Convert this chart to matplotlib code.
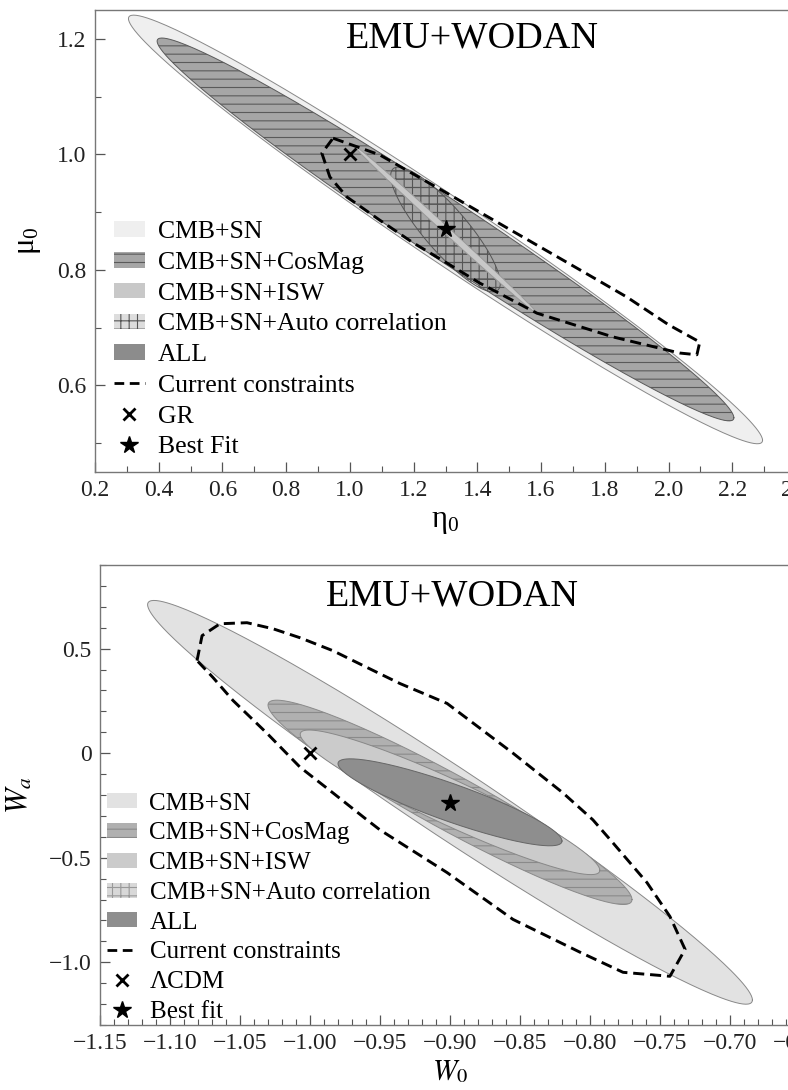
import numpy as np
import matplotlib
matplotlib.use("Agg")
import matplotlib.pyplot as plt
from matplotlib.patches import Patch
from matplotlib.lines import Line2D
from matplotlib.ticker import MultipleLocator, FuncFormatter

plt.rcParams["font.family"] = ["Liberation Serif", "DejaVu Serif"]
plt.rcParams["mathtext.fontset"] = "stix"
plt.rcParams["hatch.linewidth"] = 0.8
plt.rcParams["axes.unicode_minus"] = True

# ---- data ----
labels = ["CMB+SN", "CMB+SN+CosMag", "CMB+SN+ISW", "CMB+SN+Auto correlation", "ALL"]

# ellipses: centre, rightmost point, vertical half-thickness through the centre
top_center = (1.30, 0.87)
top_right = {"CMB+SN": (2.295, 0.505), "CMB+SN+CosMag": (2.205, 0.544),
             "CMB+SN+Auto correlation": (1.472, 0.777), "CMB+SN+ISW": (1.587, 0.725)}
top_half = {"CMB+SN": 0.067, "CMB+SN+CosMag": 0.060,
            "CMB+SN+Auto correlation": 0.055, "CMB+SN+ISW": 0.008}

bot_center = (-0.90, -0.235)
bot_right = {"CMB+SN": (-0.684, -1.18), "CMB+SN+CosMag": (-0.770, -0.70),
             "CMB+SN+ISW": (-0.793, -0.56), "ALL": (-0.820, -0.42)}
bot_half = {"CMB+SN": 0.198, "CMB+SN+CosMag": 0.150,
            "CMB+SN+ISW": 0.118, "ALL": 0.095}

# current constraints (dashed contour)
top_cur_x = [0.947, 1.094, 1.304, 1.511, 1.722, 1.869, 2.000, 2.098, 2.089, 2.035,
             1.825, 1.587, 1.408, 1.304, 1.198, 1.094, 0.991, 0.937, 0.912, 0.947]
top_cur_y = [1.028, 0.999, 0.933, 0.867, 0.800, 0.753, 0.705, 0.675, 0.653, 0.656,
             0.684, 0.725, 0.777, 0.812, 0.847, 0.886, 0.926, 0.961, 1.002, 1.028]

bot_cur_x = [-1.0807, -1.0771, -1.0643, -1.045, -1.0264, -1.0071, -0.9836, -0.9593,
             -0.9357, -0.9021, -0.855, -0.8193, -0.7979, -0.7836, -0.7593, -0.7429,
             -0.7321, -0.7429, -0.7764, -0.8071, -0.855, -0.9021, -0.95, -0.9593,
             -0.9836, -1.0071, -1.0307, -1.055, -1.0693, -1.0807]
bot_cur_y = [0.443, 0.562, 0.619, 0.624, 0.595, 0.552, 0.490, 0.410, 0.333, 0.238,
             0.0, -0.190, -0.319, -0.429, -0.619, -0.781, -0.938, -1.067, -1.048,
             -0.952, -0.795, -0.571, -0.367, -0.319, -0.190, -0.067, 0.095, 0.252,
             0.362, 0.443]

top_gr = (1.0, 1.0)
top_best = (1.3, 0.87)
bot_lcdm = (-1.0, 0.0)
bot_best = (-0.9, -0.24)

# ---- styles ----
top_style = {"CMB+SN": ("#efefef", None, "#888888"),
             "CMB+SN+CosMag": ("#a6a6a6", "--", "#5a5a5a"),
             "CMB+SN+ISW": ("#c8c8c8", None, "#999999"),
             "CMB+SN+Auto correlation": ("none", "++", "#555555"),
             "ALL": ("#8c8c8c", None, "#555555")}
bot_style = {"CMB+SN": ("#e2e2e2", None, "#888888"),
             "CMB+SN+CosMag": ("#b0b0b0", "--", "#8a8a8a"),
             "CMB+SN+ISW": ("#cbcbcb", None, "#888888"),
             "CMB+SN+Auto correlation": ("#d8d8d8", "++", "#999999"),
             "ALL": ("#8e8e8e", None, "#666666")}


def ellipse(c, r, h, n=300):
    t = np.linspace(0, 2 * np.pi, n)
    x = c[0] + np.cos(t) * (r[0] - c[0])
    y = c[1] + np.cos(t) * (r[1] - c[1]) + np.sin(t) * h
    return x, y


def draw(ax, center, rights, halves, style, order):
    for name in order:
        if name not in rights:
            continue
        fc, hatch, ec = style[name]
        x, y = ellipse(center, rights[name], halves[name])
        ax.fill(x, y, facecolor=fc, hatch=hatch, edgecolor=ec, linewidth=0, zorder=2)
        ax.plot(x, y, color=ec, lw=0.7, zorder=2)


def legend_handles(style, point_label):
    hs = []
    for name in labels:
        fc, hatch, ec = style[name]
        if fc == "none":
            fc = "#dddddd"
        hs.append(Patch(facecolor=fc, hatch=hatch, edgecolor=ec, linewidth=0))
    hs.append(Line2D([], [], color="black", ls=(0, (3.5, 2)), lw=2))
    hs.append(Line2D([], [], color="black", ls="none", marker="x", ms=8, mew=2))
    hs.append(Line2D([], [], color="black", ls="none", marker="*", ms=13))
    return hs, labels + ["Current constraints"] + point_label


def style_axes(ax):
    for s in ax.spines.values():
        s.set_color("#777777")
        s.set_linewidth(1.0)
    ax.tick_params(which="both", direction="in", top=False, right=False,
                   colors="#555555", labelcolor="#222222", labelsize=17, pad=6)
    ax.tick_params(which="major", length=7, width=0.9)
    ax.tick_params(which="minor", length=4, width=0.8)


fig = plt.figure(figsize=(7.88, 10.9), dpi=100)

# ---------- top panel ----------
ax1 = fig.add_axes([95 / 788, 618 / 1090, 701 / 788, 462 / 1090])
draw(ax1, top_center, top_right, top_half, top_style,
     ["CMB+SN", "CMB+SN+CosMag", "CMB+SN+Auto correlation", "CMB+SN+ISW"])
ax1.plot(top_cur_x, top_cur_y, color="black", lw=2.1, ls=(0, (3.8, 2)), zorder=4)
ax1.plot(*top_gr, marker="x", color="black", ms=9, mew=2, zorder=5)
ax1.plot(*top_best, marker="*", color="black", ms=13, zorder=5)
ax1.set_xlim(0.2, 2.4)
ax1.set_ylim(0.45, 1.25)
ax1.xaxis.set_major_locator(MultipleLocator(0.2))
ax1.xaxis.set_minor_locator(MultipleLocator(0.1))
ax1.yaxis.set_major_locator(MultipleLocator(0.2))
ax1.yaxis.set_minor_locator(MultipleLocator(0.1))
ax1.xaxis.set_major_formatter(FuncFormatter(lambda v, p: f"{v:.1f}"))
ax1.yaxis.set_major_formatter(FuncFormatter(lambda v, p: f"{v:.1f}"))
style_axes(ax1)
ax1.set_xlabel(r"$\mathregular{\eta_0}$", fontsize=22, labelpad=4)
ax1.set_ylabel(r"$\mathregular{\mu_0}$", fontsize=22, labelpad=10)
ax1.text(0.539, 0.918, "EMU+WODAN", transform=ax1.transAxes, fontsize=27.5,
         ha="center", va="baseline")
h, l = legend_handles(top_style, ["GR", "Best Fit"])
ax1.legend(h, l, loc="upper left", bbox_to_anchor=(0.027, 0.543), frameon=False,
           fontsize=18.5, handlelength=1.2, handleheight=0.55, labelspacing=0.34,
           handletextpad=0.5, borderpad=0, borderaxespad=0)

# ---------- bottom panel ----------
ax2 = fig.add_axes([100 / 788, 65 / 1090, 700 / 788, 460 / 1090])
draw(ax2, bot_center, bot_right, bot_half, bot_style,
     ["CMB+SN", "CMB+SN+CosMag", "CMB+SN+ISW", "ALL"])
ax2.plot(bot_cur_x, bot_cur_y, color="black", lw=2.1, ls=(0, (3.8, 2)), zorder=4)
ax2.plot(*bot_lcdm, marker="x", color="black", ms=9, mew=2, zorder=5)
ax2.plot(*bot_best, marker="*", color="black", ms=13, zorder=5)
ax2.set_xlim(-1.15, -0.65)
ax2.set_ylim(-1.3, 0.9)
ax2.xaxis.set_major_locator(MultipleLocator(0.05))
ax2.xaxis.set_minor_locator(MultipleLocator(0.01))
ax2.yaxis.set_major_locator(MultipleLocator(0.5))
ax2.yaxis.set_minor_locator(MultipleLocator(0.1))
ax2.xaxis.set_major_formatter(FuncFormatter(lambda v, p: f"{v:.2f}".replace("-", "\u2212")))
ax2.yaxis.set_major_formatter(FuncFormatter(
    lambda v, p: "0" if abs(v) < 1e-9 else f"{v:.1f}".replace("-", "\u2212")))
style_axes(ax2)
ax2.set_xlabel(r"$W_0$", fontsize=21, labelpad=3)
ax2.set_ylabel(r"$W_a$", fontsize=22, labelpad=10)
ax2.text(0.503, 0.913, "EMU+WODAN", transform=ax2.transAxes, fontsize=27.5,
         ha="center", va="baseline")
h, l = legend_handles(bot_style, ["\u039bCDM", "Best fit"])
ax2.legend(h, l, loc="upper left", bbox_to_anchor=(0.01, 0.505), frameon=False,
           fontsize=18, handlelength=1.2, handleheight=0.55, labelspacing=0.31,
           handletextpad=0.5, borderpad=0, borderaxespad=0)

fig.savefig("out.png", dpi=100)
